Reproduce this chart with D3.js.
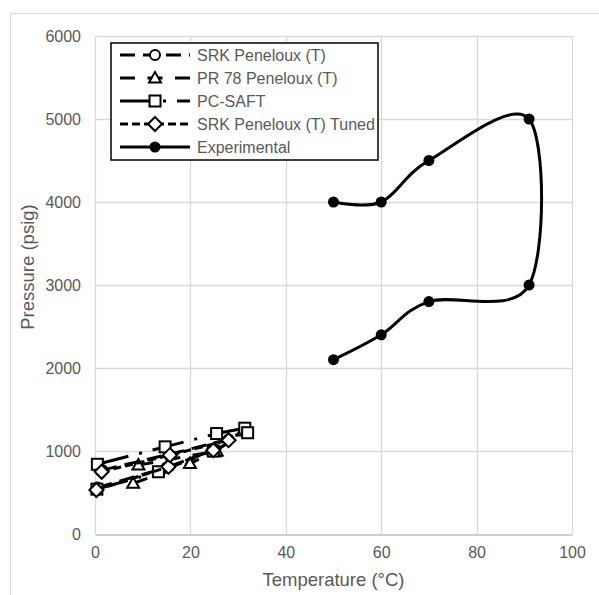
<!DOCTYPE html>
<html>
<head>
<meta charset="utf-8">
<script src="https://cdn.jsdelivr.net/npm/d3@7"></script>
<style>
  body { margin: 0; background: #fff; }
  text { font-family: "Liberation Sans", Arial, sans-serif; fill: #595959; }
</style>
</head>
<body>
<div id="chart"></div>
<script>
//******************
// Data
//******************
var seriesNames = [
  "SRK Peneloux (T)",
  "PR 78 Peneloux (T)",
  "PC-SAFT",
  "SRK Peneloux (T) Tuned",
  "Experimental"
];

// null splits a series into its two branches
var srkTemp = [0.5, 15, 25, null, 1.5, 15.5, 28, 31.5];
var srkPres = [560, 800, 1010, null, 770, 960, 1140, 1250];

var prTemp = [8, 19.9, 25.2, null, 9.1, 25.5, 31];
var prPres = [610, 850, 990, null, 830, 1000, 1240];

var pcTemp = [0.5, 14.7, 25.5, 31.4, null, 0.4, 13.3, 24.8, 32];
var pcPres = [840, 1050, 1210, 1275, null, 540, 750, 1000, 1220];

var tunedTemp = [0.3, 15.4, 24.8, null, 1.4, 15.7, 28];
var tunedPres = [530, 810, 1010, null, 750, 950, 1130];

var expTemp = [50, 60, 70, 91, 91, 70, 60, 50];
var expPres = [4000, 4000, 4500, 5000, 3000, 2800, 2400, 2100];

var xTicks = [0, 20, 40, 60, 80, 100];
var yTicks = [0, 1000, 2000, 3000, 4000, 5000, 6000];

//******************
// Setup
//******************
var width = 599;
var height = 595;
var margin = { top: 36, right: 27, bottom: 61, left: 95 };

var x = d3.scaleLinear().domain([0, 100]).range([margin.left, width - margin.right]);
var y = d3.scaleLinear().domain([0, 6000]).range([height - margin.bottom, margin.top]);

var svg = d3
  .select("#chart")
  .append("svg")
  .attr("width", width)
  .attr("height", height);

svg.append("rect").attr("width", width).attr("height", height).attr("fill", "#fff");

// chart area border (runs off the right/bottom edge)
svg
  .append("rect")
  .attr("x", 10.5)
  .attr("y", 13.5)
  .attr("width", 700)
  .attr("height", 700)
  .attr("fill", "none")
  .attr("stroke", "#d9d9d9");

// gridlines
svg
  .append("g")
  .selectAll("line")
  .data(xTicks)
  .join("line")
  .attr("x1", (d) => Math.round(x(d)) + 0.5)
  .attr("x2", (d) => Math.round(x(d)) + 0.5)
  .attr("y1", y(6000))
  .attr("y2", y(0))
  .attr("stroke", "#d9d9d9")
  .attr("stroke-width", 1.3);

svg
  .append("g")
  .selectAll("line")
  .data(yTicks.slice(1))
  .join("line")
  .attr("x1", x(0))
  .attr("x2", x(100))
  .attr("y1", (d) => Math.round(y(d)) + 0.5)
  .attr("y2", (d) => Math.round(y(d)) + 0.5)
  .attr("stroke", "#d9d9d9")
  .attr("stroke-width", 1.3);

// axes
var xAxis = (g) =>
  g
    .call(d3.axisBottom(x).tickValues(xTicks).tickFormat(d3.format("d")).tickSize(0).tickPadding(12))
    .call((g) => g.select(".domain").attr("stroke", "#bfbfbf").attr("stroke-width", 1.5))
    .call((g) => g.selectAll(".tick text").attr("font-size", 16).attr("fill", "#595959"));

var yAxis = (g) =>
  g
    .call(d3.axisLeft(y).tickValues(yTicks).tickFormat(d3.format("d")).tickSize(0).tickPadding(14))
    .call((g) => g.select(".domain").remove())
    .call((g) => g.selectAll(".tick text").attr("font-size", 16).attr("fill", "#595959"));

svg
  .append("g")
  .attr("transform", `translate(0,${Math.round(y(0)) + 0.5})`)
  .call(xAxis)
  .selectAll("text")
  .attr("font-family", "Liberation Sans, Arial, sans-serif");

svg
  .append("g")
  .attr("transform", `translate(${x(0)},0)`)
  .call(yAxis)
  .selectAll("text")
  .attr("font-family", "Liberation Sans, Arial, sans-serif");

// axis titles
svg
  .append("text")
  .attr("x", (x(0) + x(100)) / 2)
  .attr("y", 586)
  .attr("text-anchor", "middle")
  .attr("font-size", 18.5)
  .text("Temperature (°C)");

svg
  .append("text")
  .attr("transform", `translate(34,267) rotate(-90)`)
  .attr("text-anchor", "middle")
  .attr("font-size", 18.5)
  .text("Pressure (psig)");

//******************
// Markers
//******************
function marker(g, shape, cx, cy) {
  var m;
  if (shape == "circle") {
    m = g.append("circle").attr("cx", cx).attr("cy", cy).attr("r", 5);
  } else if (shape == "square") {
    m = g.append("rect").attr("x", cx - 5.5).attr("y", cy - 5.5).attr("width", 11).attr("height", 11);
  } else if (shape == "diamond") {
    m = g.append("path").attr("d", `M${cx},${cy - 7}L${cx + 7},${cy}L${cx},${cy + 7}L${cx - 7},${cy}Z`);
  } else if (shape == "triangle") {
    m = g.append("path").attr("d", `M${cx},${cy - 6}L${cx + 6},${cy + 4.5}L${cx - 6},${cy + 4.5}Z`);
  } else {
    m = g.append("circle").attr("cx", cx).attr("cy", cy).attr("r", 5.5);
  }
  if (shape == "dot") {
    m.attr("fill", "#000");
  } else {
    m.attr("fill", "#fff").attr("stroke", "#000").attr("stroke-width", 2);
  }
}

var styles = [
  { temp: srkTemp, pres: srkPres, shape: "circle", dash: "15,8", curve: d3.curveLinear },
  { temp: prTemp, pres: prPres, shape: "triangle", dash: "15,12.5", curve: d3.curveLinear },
  { temp: pcTemp, pres: pcPres, shape: "square", dash: "32,11,3,11", curve: d3.curveLinear },
  { temp: tunedTemp, pres: tunedPres, shape: "diamond", dash: "8,4", curve: d3.curveLinear },
  { temp: expTemp, pres: expPres, shape: "dot", dash: null, curve: d3.curveCatmullRom.alpha(0) }
];

//******************
// Series
//******************
var plot = svg.append("g");

styles.forEach(function (s) {
  var pts = d3.zip(s.temp, s.pres);
  var line = d3
    .line()
    .defined((d) => d[0] != null)
    .x((d) => x(d[0]))
    .y((d) => y(d[1]))
    .curve(s.curve);
  var g = plot.append("g");
  g.append("path")
    .attr("d", line(pts))
    .attr("fill", "none")
    .attr("stroke", "#000")
    .attr("stroke-width", 3)
    .attr("stroke-linejoin", "round")
    .attr("stroke-dasharray", s.dash);
  pts
    .filter((d) => d[0] != null)
    .forEach((d) => marker(g, s.shape, x(d[0]), y(d[1])));
});

//******************
// Legend
//******************
var legend = svg.append("g");
legend
  .append("rect")
  .attr("x", 111)
  .attr("y", 43)
  .attr("width", 267)
  .attr("height", 117)
  .attr("fill", "#fff")
  .attr("stroke", "#000")
  .attr("stroke-width", 1.5);

seriesNames.forEach(function (name, i) {
  var s = styles[i];
  var ly = 55 + i * 23;
  legend
    .append("line")
    .attr("x1", 120)
    .attr("x2", 190)
    .attr("y1", ly)
    .attr("y2", ly)
    .attr("stroke", "#000")
    .attr("stroke-width", 3)
    .attr("stroke-dasharray", s.dash);
  marker(legend, s.shape, 155, ly);
  legend
    .append("text")
    .attr("x", 197)
    .attr("y", ly + 5.5)
    .attr("font-size", 16)
    .text(name);
});
</script>
</body>
</html>
